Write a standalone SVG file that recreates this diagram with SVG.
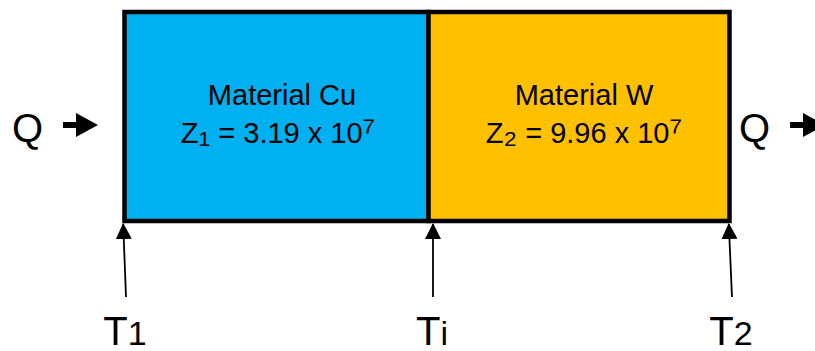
<svg xmlns="http://www.w3.org/2000/svg" width="815" height="351" viewBox="0 0 815 351">
<style>
text{font-family:"Liberation Sans","DejaVu Sans",sans-serif;fill:#000}
.box{stroke:#000;stroke-width:4.5}
.mat{font-size:29px;text-anchor:middle}
.sub{font-size:35px}
.big{font-size:40px}
.lab{font-size:40px;text-anchor:middle}
.ptr{stroke:#000;stroke-width:1.8;fill:none}
</style>
<defs>
<marker id="ah" viewBox="0 0 16 16" refX="15" refY="8" markerWidth="16" markerHeight="16" markerUnits="userSpaceOnUse" orient="auto">
<path d="M0,0 L16,8 L0,16 Z" fill="#000"/>
</marker>
</defs>
<g id="cu">
<rect class="box" x="124.5" y="12" width="304" height="209" fill="#00B0F0"/>
<text class="mat" x="282" y="105">Material Cu</text>
<text class="mat" x="278" y="143">Z<tspan class="sub">₁</tspan> = 3.19 x 10<tspan class="sub">⁷</tspan></text>
</g>
<g id="w">
<rect class="box" x="428.5" y="12" width="301" height="209" fill="#FFC000"/>
<text class="mat" x="584" y="105">Material W</text>
<text class="mat" x="584" y="143">Z<tspan class="sub">₂</tspan> = 9.96 x 10<tspan class="sub">⁷</tspan></text>
</g>
<g id="qin">
<text class="big" x="12" y="142">Q</text>
<path d="M63,122 H76 V113 L98,125 L76,137 V128 H63 Z" fill="#000"/>
</g>
<g id="qout">
<text class="big" x="739" y="142">Q</text>
<path d="M790,122 H803 V113 L825,125 L803,137 V128 H790 Z" fill="#000"/>
</g>
<g id="connectors">
<line class="ptr" x1="126" y1="297" x2="123.2" y2="224" marker-end="url(#ah)"/>
<line class="ptr" x1="433" y1="297" x2="433" y2="224" marker-end="url(#ah)"/>
<line class="ptr" x1="732" y1="297" x2="728.8" y2="224" marker-end="url(#ah)"/>
</g>
<g id="t1"><text class="lab" x="125" y="345">T<tspan font-size="34">1</tspan></text></g>
<g id="ti"><text class="lab" x="432" y="345">T<tspan font-size="34">i</tspan></text></g>
<g id="t2"><text class="lab" x="731" y="345">T<tspan font-size="34">2</tspan></text></g>
</svg>
